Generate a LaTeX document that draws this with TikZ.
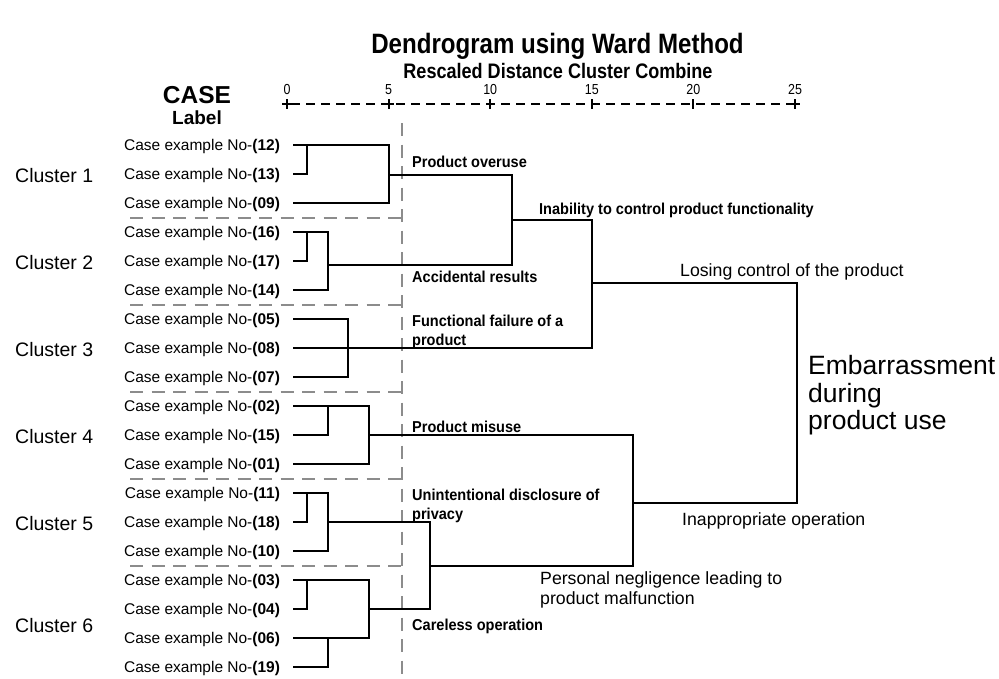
\documentclass[tikz,border=0pt]{standalone}
\usepackage{fontspec}
\setmainfont{Liberation Sans}
\newfontfamily\condfont[FakeStretch=0.92]{Liberation Sans}
\newfontfamily\narrowfont[FakeStretch=0.86]{Liberation Sans}
\definecolor{sepgray}{RGB}{140,140,140}
\begin{document}
\begin{tikzpicture}[x=1pt,y=-1pt,
  br/.style={line width=2.1pt, black, line join=miter},
  sepline/.style={line width=2pt, sepgray, dash pattern=on 13pt off 8.5pt},
  leaf/.style={anchor=east, inner xsep=0pt, inner ysep=0pt, outer xsep=13pt,
    text height=11.1pt, text depth=0pt, font=\fontsize{15.5}{18}\selectfont},
  clu/.style={anchor=west, inner sep=0pt, text height=14pt, text depth=0pt,
    font=\fontsize{19.5}{22}\selectfont},
  lblA/.style={anchor=west, inner sep=0pt, text height=11.3pt, text depth=0pt,
    font=\condfont\bfseries\fontsize{15.8}{19}\selectfont},
  lblAm/.style={anchor=north west, inner sep=0pt, align=left,
    font=\condfont\bfseries\fontsize{15.8}{19}\selectfont},
  lblB/.style={anchor=west, inner sep=0pt, text height=12.7pt, text depth=0pt,
    font=\fontsize{17.7}{20}\selectfont},
  lblBm/.style={anchor=north west, inner sep=0pt, align=left,
    font=\fontsize{17.7}{20}\selectfont},
  tick/.style={anchor=base, inner sep=0pt, font=\narrowfont\fontsize{14.5}{16}\selectfont}
]
\useasboundingbox (0,0) rectangle (999,678);

% titles
\node[inner sep=0pt, font=\narrowfont\bfseries\fontsize{28}{32}\selectfont] (title) at (557.5,46) {Dendrogram using Ward Method};
\node[inner sep=0pt, text height=14.5pt, text depth=0pt, font=\narrowfont\bfseries\fontsize{21}{24}\selectfont] (sub) at (558,71) {Rescaled Distance Cluster Combine};
\node[inner sep=0pt, text height=17.5pt, text depth=0pt, font=\bfseries\fontsize{24.5}{28}\selectfont] (case) at (197,95) {CASE};
\node[inner sep=0pt, text height=13.5pt, text depth=0pt, font=\bfseries\fontsize{19}{22}\selectfont] (lab) at (197,118) {Label};

% axis
\coordinate (ax0) at (287,104);
\coordinate (ax25) at (795,104);
\draw[line width=2pt, dash pattern=on 8.5pt off 6.5pt, dash phase=-4pt] (ax0) -- (ax25);
\foreach \v/\xx in {0/287,5/388.6,10/490.2,15/591.8,20/693.4,25/795} {
  \draw[line width=2pt] (\xx,99) -- (\xx,109);
  \node[tick] (t\v) at (\xx,94) {\v};
}
\foreach \xx in {287,388.6,795} {
  \draw[line width=2pt] (\xx-5,104) -- (\xx+5,104);
}

% separators
\draw[sepline] (402,123) -- (402,678);
\foreach \yy in {218,304.5,391.5,478.5,565.5} {
  \draw[sepline] (130,\yy) -- (402,\yy);
}

% leaves
\node[leaf] (l12) at (293,145) {Case example No-\textbf{(12)}};
\node[leaf] (l13) at (293,174) {Case example No-\textbf{(13)}};
\node[leaf] (l09) at (293,203) {Case example No-\textbf{(09)}};
\node[leaf] (l16) at (293,232) {Case example No-\textbf{(16)}};
\node[leaf] (l17) at (293,261) {Case example No-\textbf{(17)}};
\node[leaf] (l14) at (293,290) {Case example No-\textbf{(14)}};
\node[leaf] (l05) at (293,319) {Case example No-\textbf{(05)}};
\node[leaf] (l08) at (293,348) {Case example No-\textbf{(08)}};
\node[leaf] (l07) at (293,377) {Case example No-\textbf{(07)}};
\node[leaf] (l02) at (293,406) {Case example No-\textbf{(02)}};
\node[leaf] (l15) at (293,435) {Case example No-\textbf{(15)}};
\node[leaf] (l01) at (293,464) {Case example No-\textbf{(01)}};
\node[leaf] (l11) at (293,493) {Case example No-\textbf{(11)}};
\node[leaf] (l18) at (293,522) {Case example No-\textbf{(18)}};
\node[leaf] (l10) at (293,551) {Case example No-\textbf{(10)}};
\node[leaf] (l03) at (293,580) {Case example No-\textbf{(03)}};
\node[leaf] (l04) at (293,609) {Case example No-\textbf{(04)}};
\node[leaf] (l06) at (293,638) {Case example No-\textbf{(06)}};
\node[leaf] (l19) at (293,667) {Case example No-\textbf{(19)}};

% cluster names
\node[clu] (k1) at (15,175) {Cluster 1};
\node[clu] (k2) at (15,262) {Cluster 2};
\node[clu] (k3) at (15,349) {Cluster 3};
\node[clu] (k4) at (15,436) {Cluster 4};
\node[clu] (k5) at (15,523) {Cluster 5};
\node[clu] (k6) at (15,625) {Cluster 6};

% junctions
\coordinate (a1) at (307,145);
\coordinate (c1) at (389,175);
\coordinate (a2) at (307,232);
\coordinate (c2) at (328,265);
\coordinate (c3) at (348,348);
\coordinate (a4) at (328,406);
\coordinate (c4) at (369,435);
\coordinate (a5) at (307,493);
\coordinate (c5) at (328,522);
\coordinate (a6) at (307,580);
\coordinate (b6) at (328,638);
\coordinate (c6) at (369,609);
\coordinate (m12) at (512,220);
\coordinate (m123) at (592,283);
\coordinate (m56) at (430,566);
\coordinate (m456) at (633,503);
\coordinate (top) at (797,393);

% cluster 1
\draw[br] (l13.east) -| (a1);
\draw[br] (l12.east) -| (c1);
\draw[br] (l09.east) -| (c1);
% cluster 2
\draw[br] (l17.east) -| (a2);
\draw[br] (l16.east) -| (c2);
\draw[br] (l14.east) -| (c2);
% cluster 3
\draw[br] (l05.east) -| (c3);
\draw[br] (l07.east) -| (c3);
% cluster 4
\draw[br] (l15.east) -| (a4);
\draw[br] (l02.east) -| (c4);
\draw[br] (l01.east) -| (c4);
% cluster 5
\draw[br] (l18.east) -| (a5);
\draw[br] (l11.east) -| (c5);
\draw[br] (l10.east) -| (c5);
% cluster 6
\draw[br] (l04.east) -| (a6);
\draw[br] (l19.east) -| (b6);
\draw[br] (l03.east) -| (c6);
\draw[br] (l06.east) -| (c6);
% upper merges
\draw[br] (c1) -| (m12);
\draw[br] (c2) -| (m12);
\draw[br] (m12) -| (m123);
\draw[br] (l08.east) -| (m123);
\draw[br] (m123) -| (top);
% lower merges
\draw[br] (c5) -| (m56);
\draw[br] (c6) -| (m56);
\draw[br] (c4) -| (m456);
\draw[br] (m56) -| (m456);
\draw[br] (m456) -| (top);

% labels
\node[lblA] (n1) at (412,162) {Product overuse};
\node[lblA] (n2) at (539,209) {Inability to control product functionality};
\node[lblA] (n3) at (412,277) {Accidental results};
\node[lblAm] (n4) at (412,315.3) {Functional failure of a\\product};
\node[lblA] (n5) at (412,427) {Product misuse};
\node[lblAm] (n6) at (412,489.3) {Unintentional disclosure of\\privacy};
\node[lblA] (n7) at (412,625) {Careless operation};
\node[lblB] (n8) at (680,270) {Losing control of the product};
\node[lblB] (n9) at (682,519) {Inappropriate operation};
\node[lblBm] (n10) at (540,571.6) {Personal negligence leading to\\product malfunction};
\node[anchor=north west, inner sep=0pt, align=left, font=\fontsize{26.5}{27.5}\selectfont] (emb) at (808,355.5) {Embarrassment\\during\\product use};
\end{tikzpicture}
\end{document}
